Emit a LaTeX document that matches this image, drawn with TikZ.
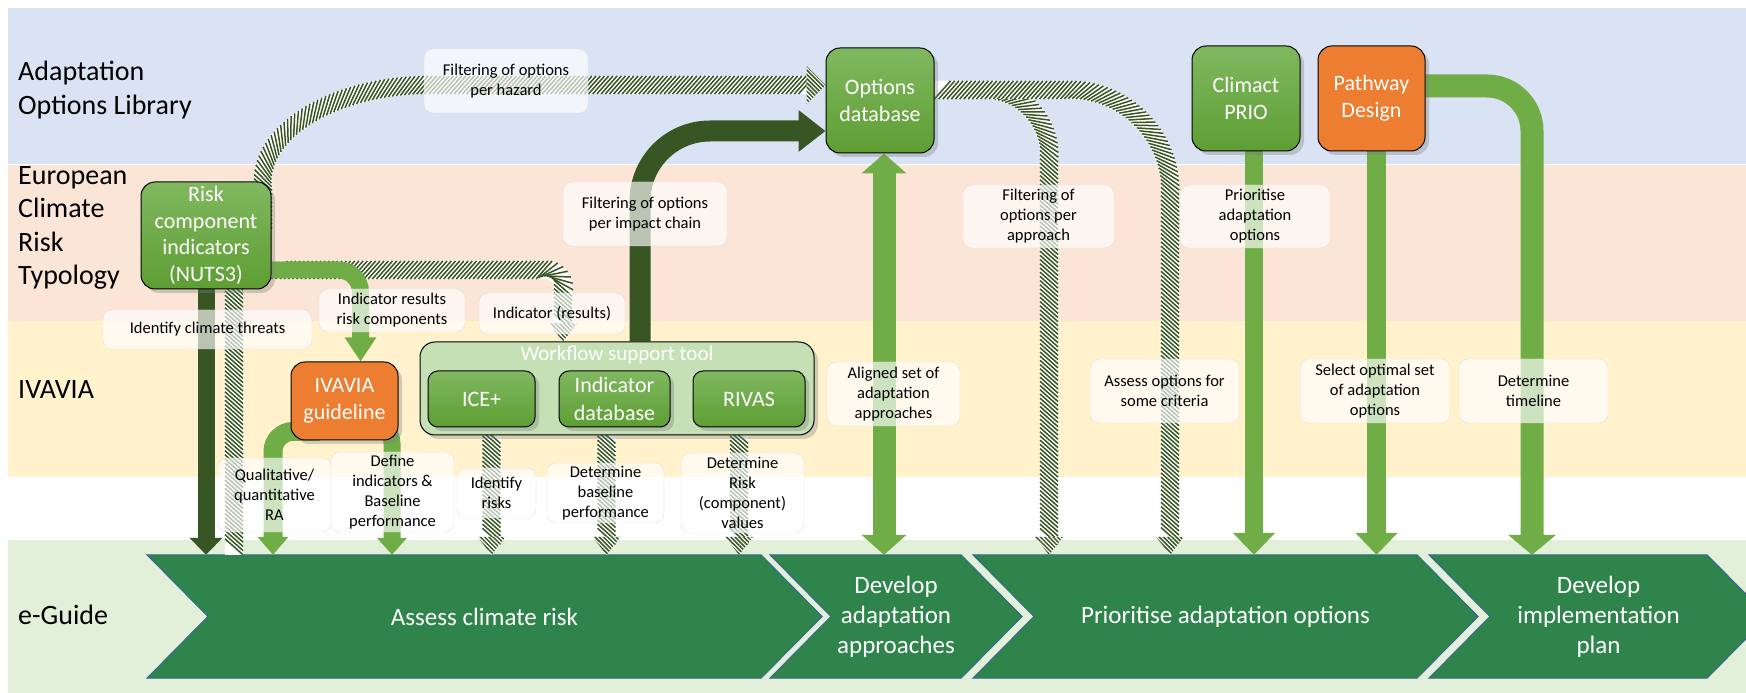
\documentclass[tikz,border=0pt]{standalone}
\usepackage{fontspec}
\setmainfont{Carlito}
\usetikzlibrary{arrows.meta, positioning, shadows, calc, backgrounds, decorations.markings, patterns.meta}
\definecolor{laneblue}{HTML}{DAE3F3}
\definecolor{lanepeach}{HTML}{FBE5D6}
\definecolor{laneyellow}{HTML}{FFF2CC}
\definecolor{lanegreen}{HTML}{E2F0D9}
\definecolor{stagegreen}{HTML}{2E844A}
\definecolor{stageedge}{HTML}{3A5FA0}
\definecolor{flowgreen}{HTML}{70AD47}
\definecolor{darkflow}{HTML}{375623}
\definecolor{boxtop}{HTML}{80B860}
\definecolor{boxbottom}{HTML}{5E9E33}
\definecolor{ieorange}{HTML}{ED7D31}
\definecolor{wstgreen}{HTML}{C5E0B4}
\pgfdeclarelayer{lanes}
\pgfsetlayers{lanes,background,main}
\tikzset{
    lanelabel/.style={anchor=west, align=left, inner sep=0pt, font=\fontsize{28}{33.5}\selectfont},
    boxbase/.style={rectangle, draw, line width=1pt, rounded corners=14pt, text=white, align=center, inner sep=0pt, minimum width=108pt, minimum height=105pt, font=\fontsize{22}{27.5}\selectfont, drop shadow={shadow xshift=4pt, shadow yshift=-4pt, opacity=0.35}},
    tool/.style={boxbase, top color=boxtop, bottom color=boxbottom},
    guide/.style={boxbase, fill=ieorange},
    wstbox/.style={rectangle, draw, line width=1pt, rounded corners=15pt, fill=wstgreen, minimum width=394pt, minimum height=93pt, drop shadow={shadow xshift=4pt, shadow yshift=-4pt, opacity=0.35}},
    note/.style={rectangle, rounded corners=9pt, draw=black!12, fill=white, fill opacity=0.65, text opacity=1, align=center, inner sep=0pt, font=\fontsize{16.5}{20}\selectfont},
    stage/.style={minimum height=123pt, inner sep=0pt, text=white, align=center, font=\fontsize{25}{30}\selectfont},
    hatched/.style={draw=white, line width=18pt, postaction={decorate, decoration={markings, mark=between positions 8pt and 1 step 4.2pt with {\draw[darkflow, line width=1.5pt] (-8pt,-9pt) -- (8pt,9pt);}}}},
    hatchtip/.style 2 args={postaction={decorate, decoration={markings, mark=at position 1 with {\fill[white] (0pt,#2) -- (#1,0pt) -- (0pt,-#2) -- cycle; \fill[pattern={Lines[angle=-45, distance=3pt, line width=1.5pt]}, pattern color=darkflow] (0pt,#2) -- (#1,0pt) -- (0pt,-#2) -- cycle;}}}}
}

\begin{document}
\begin{tikzpicture}[x=1pt, y=1pt]
    \useasboundingbox (0,0) rectangle (1746,693);

    % lanes
    \begin{pgfonlayer}{lanes}
        \fill[laneblue] (8,529) rectangle (1746,685);
        \fill[lanepeach] (8,372) rectangle (1746,528);
        \fill[laneyellow] (8,216) rectangle (1746,372);
        \fill[lanegreen] (8,0) rectangle (1746,153);
    \end{pgfonlayer}

    \node[lanelabel] (aol) at (18,603) {Adaptation\\Options Library};
    \node[lanelabel] (ecrt) at (18,465) {European\\Climate\\Risk\\Typology};
    \node[lanelabel] (ivavia) at (18,303) {IVAVIA};
    \node[lanelabel] (eguide) at (18,78) {e-Guide};

    % e-Guide stages
    \node[stage, minimum width=675pt] (assess) at (484.5,76.5) {Assess climate risk};
    \node[stage, minimum width=252pt] (develop) at (896,76.5) {Develop\\adaptation\\approaches};
    \node[stage, minimum width=505pt] (prior) at (1225.5,76.5) {Prioritise adaptation options};
    \node[stage, minimum width=339pt] (implement) at (1598.5,76.5) {Develop\\implementation\\plan};
    \begin{pgfonlayer}{lanes}
        \foreach \s in {assess, develop, prior, implement}
            \fill[stagegreen, draw=stageedge, line width=0.8pt] (\s.north west) -- ([xshift=-61pt]\s.north east) -- (\s.east) -- ([xshift=-61pt]\s.south east) -- (\s.south west) -- ([xshift=61pt]\s.west) -- cycle;
    \end{pgfonlayer}

    % tools
    \node[tool, minimum width=130pt, minimum height=107pt, font=\fontsize{22}{26.7}\selectfont] (risk) at (206,457.5) {Risk\\component\\indicators\\(NUTS3)};
    \node[tool] (optdb) at (880,592.5) {Options\\database};
    \node[tool] (prio) at (1246,594.5) {Climact\\PRIO};
    \node[guide, minimum width=107pt] (pathway) at (1371.5,594.5) {Pathway\\Design};
    \node[guide, minimum width=107pt, minimum height=78pt] (ivguide) at (344.5,292) {IVAVIA\\guideline};
    \node[wstbox] (wst) at (617,304.5) {};
    \node[text=white, inner sep=0pt, font=\fontsize{21}{25}\selectfont, below=4pt of wst.north] (wsttitle) {Workflow support tool};
    \node[tool, minimum width=107pt, minimum height=56pt, rounded corners=10pt] (ice) at (481.5,294) {ICE+};
    \node[tool, minimum width=111pt, minimum height=56pt, rounded corners=10pt, right=23pt of ice] (inddb) {Indicator\\database};
    \node[tool, minimum width=112pt, minimum height=56pt, rounded corners=10pt, right=22pt of inddb] (rivas) {RIVAS};

    % notes
    \node[note, minimum width=164pt, minimum height=64pt] (nhazard) at (506,612) {Filtering of options\\per hazard};
    \node[note, minimum width=164pt, minimum height=64pt] (nchain) at (645,479) {Filtering of options\\per impact chain};
    \node[note, minimum width=151pt, minimum height=63pt] (napproach) at (1038.5,476.5) {Filtering of\\options per\\approach};
    \node[note, minimum width=150pt, minimum height=63pt] (nprio) at (1255,476.5) {Prioritise\\adaptation\\options};
    \node[note, minimum width=209pt, minimum height=39pt] (nthreats) at (207.5,363.5) {Identify climate threats};
    \node[note, minimum width=146pt, minimum height=43pt] (nindres) at (392,382.5) {Indicator results\\risk components};
    \node[note, minimum width=146pt, minimum height=41pt] (nind) at (552,379.5) {Indicator (results)};
    \node[note, minimum width=133pt, minimum height=64pt] (naligned) at (893.5,299) {Aligned set of\\adaptation\\approaches};
    \node[note, minimum width=149pt, minimum height=64pt] (ncriteria) at (1164.5,302) {Assess options for\\some criteria};
    \node[note, minimum width=150pt, minimum height=64pt] (nselect) at (1375,302) {Select optimal set\\of adaptation\\options};
    \node[note, minimum width=149pt, minimum height=64pt] (ntimeline) at (1533.5,302) {Determine\\timeline};
    \node[note, minimum width=113pt, minimum height=74pt] (nqual) at (274.5,198) {Qualitative/\\quantitative\\RA};
    \node[note, minimum width=123pt, minimum height=80pt] (ndefine) at (392.5,201) {Define\\indicators \&\\Baseline\\performance};
    \node[note, minimum width=79pt, minimum height=50pt] (nidentify) at (496.5,200) {Identify\\risks};
    \node[note, minimum width=117pt, minimum height=60pt] (nbaseline) at (605.5,200) {Determine\\baseline\\performance};
    \node[note, minimum width=123pt, minimum height=80pt] (nriskval) at (742.5,200) {Determine\\Risk\\(component)\\values};

    % flows
    \begin{scope}[on background layer]
        \draw[hatched, hatchtip={19pt}{19pt}] (234,0 |- assess.north) -- (234,430) -- (263,470) -- (263,511) .. controls (263,565) and (338,608) .. (430,608) -- ([xshift=-19pt, yshift=15.5pt]optdb.west);
        \draw[hatched, hatchtip={18pt}{14pt}] ([yshift=-34.5pt]risk.east) -- (545,423) .. controls (555,423) and (563,415) .. (563,405) -- ([xshift=-54pt, yshift=18pt]wst.north);
        \draw[hatched, hatchtip={18pt}{14pt}] ([yshift=10.5pt]optdb.east) -- (984,603) .. controls (1020,603) and (1049,574) .. (1049,538) -- ($(1049,0 |- prior.north)+(0,18)$);
        \draw[hatched, hatchtip={18pt}{14pt}] ([yshift=10.5pt]optdb.east) -- (1070,603) .. controls (1125,603) and (1170,558) .. (1170,503) -- ($(1170,0 |- prior.north)+(0,18)$);
        \draw[hatched, hatchtip={18pt}{14pt}] ([xshift=10pt]ice.south) -- ($(ice.south |- assess.north)+(10,18)$);
        \draw[hatched, hatchtip={18pt}{14pt}] ([xshift=-8pt]inddb.south) -- ($(inddb.south |- assess.north)+(-8,18)$);
        \draw[hatched, hatchtip={18pt}{14pt}] ([xshift=-10pt]rivas.south) -- ($(rivas.south |- assess.north)+(-10,18)$);

        \draw[darkflow, line width=17pt, -{Triangle[width=32pt,length=17pt]}] (risk.south) -- (risk.south |- assess.north);
        \draw[darkflow, line width=21pt, rounded corners=70pt, -{Triangle[width=40pt,length=27pt]}] ([xshift=23pt]wst.north) |- ([yshift=-30.5pt]optdb.west);
        \draw[flowgreen, line width=17pt, rounded corners=22pt, -{Triangle[width=30pt,length=24pt]}] ([yshift=-34.5pt]risk.east) -| ([xshift=16pt]ivguide.north);
        \draw[flowgreen, line width=19pt, rounded corners=20pt, -{Triangle[width=30pt,length=18pt]}] ([xshift=29pt,yshift=9pt]ivguide.south west) -| (273,0 |- assess.north);
        \draw[flowgreen, line width=17pt, rounded corners=20pt, -{Triangle[width=29pt,length=17pt]}] ([xshift=-28pt,yshift=17pt]ivguide.south east) -| (392,0 |- assess.north);
        \draw[flowgreen, line width=23pt, {Triangle[width=44pt,length=20pt]}-{Triangle[width=44pt,length=20pt]}] ([xshift=4pt]optdb.south) -- ($(optdb.south |- develop.north)+(4,0)$);
        \draw[flowgreen, line width=18pt, -{Triangle[width=41pt,length=22pt]}] ([xshift=8pt]prio.south) -- ($(prio.south |- prior.north)+(8,0)$);
        \draw[flowgreen, line width=19pt, -{Triangle[width=41pt,length=22pt]}] ([xshift=5pt]pathway.south) -- ($(pathway.south |- prior.north)+(5,0)$);
        \draw[flowgreen, line width=23pt, rounded corners=45pt, -{Triangle[width=47pt,length=20pt]}] ([yshift=12.5pt]pathway.east) -| (1532,0 |- implement.north);
    \end{scope}
\end{tikzpicture}
\end{document}
